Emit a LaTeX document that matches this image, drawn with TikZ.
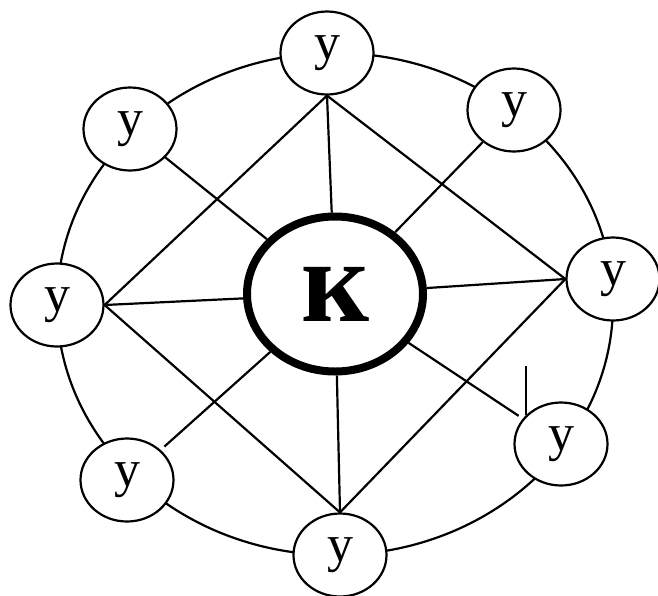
\documentclass[tikz,border=0pt]{standalone}
\usepackage{fontspec}
\setmainfont{Liberation Serif}
\usetikzlibrary{shapes.geometric}
\tikzset{
  link/.style={draw=black,line width=2.2pt},
  ring/.style={draw=black,line width=2.2pt},
  unit/.style={ellipse,draw=black,line width=2.2pt,fill=white,
    minimum width=93pt,minimum height=83pt,inner sep=0pt,
    font=\fontsize{52}{52}\selectfont},
  hub/.style={ellipse,draw=black,line width=8pt,fill=white,
    minimum width=176pt,minimum height=155pt,inner sep=0pt,
    font=\bfseries\fontsize{118}{118}\selectfont},
}

\begin{document}
\begin{tikzpicture}[x=1pt,y=-1pt]
\useasboundingbox (0,0) rectangle (658,595);
% outer ring behind the units
\coordinate (mid) at (335,304);
\draw[ring] (mid) ellipse [x radius=278pt,y radius=251pt];
% centre and units
\node[hub] (k) at (335,294) {к};
\node[unit] (t) at (327,53) {у};
\node[unit] (ur) at (514,110) {у};
\node[unit] (r) at (613,279) {у};
\node[unit] (lr) at (561,444) {у};
\node[unit] (b) at (340,555) {у};
\node[unit] (ll) at (127,480) {у};
\node[unit] (l) at (57,305) {у};
\node[unit] (ul) at (130,129) {у};
% spokes
\draw[link] (t.south) -- (k); \draw[link] (b.north) -- (k);
\draw[link] (l.east) -- (k); \draw[link] (r.west) -- (k);
\draw[link] (ul) -- (k); \draw[link] (ur) -- (k);
\draw[link,shorten >=5pt] (k) -- (ll); \draw[link,shorten >=5pt] (k) -- (lr);
% rhombus
\draw[link] (t.south) -- (l.east); \draw[link] (t.south) -- (r.west);
\draw[link] (l.east) -- (b.north); \draw[link] (r.west) -- (b.north);
% stub above lower right unit
\coordinate (tick) at (0,366);
\draw[link] (lr.140) -- (lr.140 |- tick);
\end{tikzpicture}
\end{document}
